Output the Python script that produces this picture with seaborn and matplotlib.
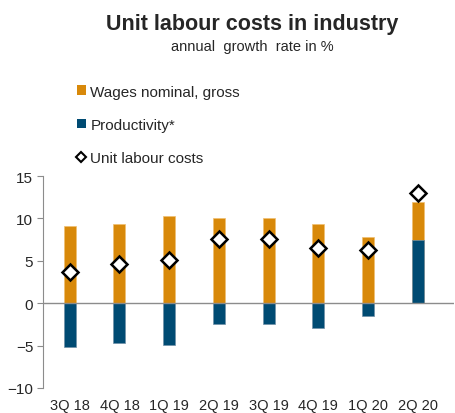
import numpy as np
import matplotlib
matplotlib.use("Agg")
import matplotlib.pyplot as plt
from matplotlib.patches import Patch
from matplotlib.lines import Line2D
import seaborn as sns

# Datos
quarters = ["3Q 18", "4Q 18", "1Q 19", "2Q 19", "3Q 19", "4Q 19", "1Q 20", "2Q 20"]
wages = [9.1, 9.4, 10.3, 10.1, 10.1, 9.4, 7.8, 4.4]
productivity = [-5.2, -4.7, -4.9, -2.4, -2.4, -2.9, -1.5, 7.5]
ulc = [3.7, 4.6, 5.1, 7.6, 7.6, 6.5, 6.3, 13.0]

orange = "#D8890A"
blue = "#004B73"

sns.set_style("white")
plt.rcParams["font.family"] = ["Liberation Sans", "DejaVu Sans"]

fig = plt.figure(figsize=(4.56, 4.14), dpi=100)
ax = fig.add_axes([0.094, 0.0604, 0.901, 0.512])

# salarios apilados encima de la productividad cuando ésta es positiva
wages_top = np.array(wages) + np.clip(productivity, 0, None)

sns.barplot(x=quarters, y=wages_top, color=orange, saturation=1, width=0.24,
            edgecolor="#f0c070", linewidth=0.5, ax=ax, zorder=2)
sns.barplot(x=quarters, y=productivity, color=blue, saturation=1, width=0.24,
            edgecolor="#7090a8", linewidth=0.5, ax=ax, zorder=3)
sns.pointplot(x=quarters, y=ulc, linestyle="none", marker="D", markersize=8,
              color="white", markeredgecolor="black", markeredgewidth=1.8,
              ax=ax, zorder=5)

ax.axhline(0, color="#8c8c8c", lw=1, zorder=4)
ax.set_ylim(-10, 15)
ax.set_yticks([-10, -5, 0, 5, 10, 15])
ax.set_xlim(-0.54, 7.72)
ax.set_xlabel("")
ax.set_ylabel("")
for s in ["top", "right", "bottom"]:
    ax.spines[s].set_visible(False)
ax.spines["left"].set_color("#8c8c8c")
ax.tick_params(axis="y", left=True, length=4, color="#8c8c8c", labelsize=11, pad=3)
ax.tick_params(axis="x", bottom=False, labelsize=10.5, pad=4)

fig.text(0.553, 0.94, "Unit labour costs in industry", ha="center", va="center",
         fontsize=15.5, fontweight="bold")
fig.text(0.553, 0.887, "annual  growth  rate in %", ha="center", va="center", fontsize=10.5)

handles = [
    Patch(facecolor=orange, edgecolor="none", label="Wages nominal, gross"),
    Patch(facecolor=blue, edgecolor="none", label="Productivity*"),
    Line2D([0], [0], marker="D", linestyle="none", markersize=5, markerfacecolor="white",
           markeredgecolor="black", markeredgewidth=1.5, label="Unit labour costs"),
]
fig.legend(handles=handles, loc="upper left", bbox_to_anchor=(0.168, 0.793), frameon=False,
           fontsize=11, handlelength=0.6, handleheight=0.6, handletextpad=0.3,
           labelspacing=1.25, borderaxespad=0, borderpad=0)

fig.savefig("out.png", dpi=100)
